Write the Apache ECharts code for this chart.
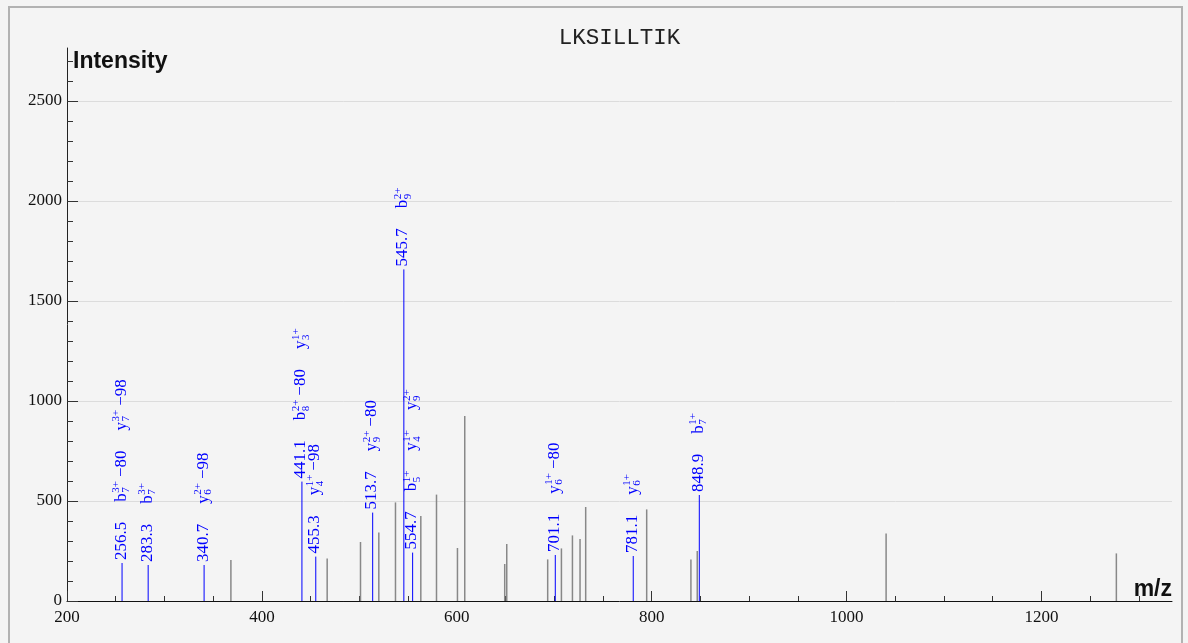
<!DOCTYPE html>
<html><head><meta charset="utf-8">
<script src="https://cdn.jsdelivr.net/npm/echarts@6/dist/echarts.min.js"></script>
<style>
html,body{margin:0;padding:0;background:#f4f4f4;width:1188px;height:643px;overflow:hidden;}
#frame{position:absolute;left:8px;top:6px;width:1175px;height:700px;border:2px solid #b2b2b2;box-sizing:border-box;}
#chart{position:absolute;left:0;top:0;width:1188px;height:643px;}
</style></head><body>
<div id="frame"></div>
<div id="chart"></div>
<script>
const peptide = 'LKSILLTIK';
const xTickValues = [200, 400, 600, 800, 1000, 1200];
const yTickValues = [0, 500, 1000, 1500, 2000, 2500];

// unannotated peaks (m/z, intensity)
const grayMz  = [368.2, 467.0, 501.2, 520.0, 537.1, 563.1, 579.2, 600.7, 608.2, 649.2, 651.3, 693.3, 707.4, 718.7, 726.5, 732.3, 794.9, 840.3, 846.8, 1040.6, 1276.9];
const grayInt = [205, 212, 295, 343, 493, 425, 532, 265, 925, 185, 285, 208, 263, 328, 310, 470, 458, 208, 250, 338, 238];

// annotated peaks
const blueMz  = [256.5, 283.3, 340.7, 441.1, 455.3, 513.7, 545.7, 554.7, 701.1, 781.1, 848.9];
const blueInt = [190, 180, 180, 597, 222, 442, 1658, 242, 230, 225, 530];
// ion labels: base|subscript|superscript|suffix
const blueIons = [
  ['b|7|3+|−80', 'y|7|3+|−98'],
  ['b|7|3+|'],
  ['y|6|2+|−98'],
  ['b|8|2+|−80', 'y|3|1+|'],
  ['y|4|1+|−98'],
  ['y|9|2+|−80'],
  ['b|9|2+|'],
  ['b|5|1+|', 'y|4|1+|', 'y|9|2+|'],
  ['y|6|1+|−80'],
  ['y|6|1+|'],
  ['b|7|1+|']
];

const BLUE = '#0000ff';
const GRAY = '#888888';
const F_MAIN = '17px "Liberation Serif"';
const F_SMALL = '11px "Liberation Serif"';
const GAP = 20;

const mctx = document.createElement('canvas').getContext('2d');
function measure(t, font) { mctx.font = font; return mctx.measureText(t).width; }
function txt(x, y, text, font) {
  return {type: 'text', x: x, y: y, style: {text: text, font: font, fill: BLUE,
    align: 'left', verticalAlign: 'middle', textAlign: 'left', textVerticalAlign: 'middle'}};
}

function renderGray(params, api) {
  const p0 = api.coord([api.value(0), 0]);
  const p1 = api.coord([api.value(0), api.value(1)]);
  return {type: 'line', shape: {x1: p0[0], y1: p0[1], x2: p1[0], y2: p1[1]},
    style: {stroke: GRAY, lineWidth: 1.5}};
}

function renderBlue(params, api) {
  const i = params.dataIndex;
  const p0 = api.coord([api.value(0), 0]);
  const p1 = api.coord([api.value(0), api.value(1)]);
  const texts = [];
  const num = blueMz[i].toFixed(1);
  texts.push(txt(0, 0, num, F_MAIN));
  let x = measure(num, F_MAIN) + GAP;
  blueIons[i].forEach(function (ion) {
    const parts = ion.split('|');
    const base = parts[0], sub = parts[1], sup = parts[2], suffix = parts[3];
    texts.push(txt(x, 0, base, F_MAIN));
    const bw = measure(base, F_MAIN) + 0.5;
    texts.push(txt(x + bw, -5, sup, F_SMALL));
    texts.push(txt(x + bw, 5, sub, F_SMALL));
    let w = bw + Math.max(measure(sup, F_SMALL), measure(sub, F_SMALL));
    if (suffix) {
      texts.push(txt(x + w + 4, 0, suffix, F_MAIN));
      w += 4 + measure(suffix, F_MAIN);
    }
    x += w + GAP;
  });
  return {type: 'group', children: [
    {type: 'line', shape: {x1: p0[0], y1: p0[1], x2: p1[0], y2: p1[1]}, style: {stroke: BLUE, lineWidth: 1}},
    {type: 'group', x: p1[0] - 1, y: p1[1] - 3, rotation: Math.PI / 2, children: texts}
  ]};
}

function plain(v) { return String(v); }

const chart = echarts.init(document.getElementById('chart'), null, {renderer: 'canvas'});
chart.setOption({
  backgroundColor: 'transparent',
  animation: false,
  title: {
    text: peptide, left: 614.5, top: 22, textAlign: 'center',
    textStyle: {fontFamily: '"Liberation Mono"', fontSize: 22.5, fontWeight: 'normal', color: '#222'}
  },
  grid: {left: 67, right: 16, top: 48, bottom: 42, containLabel: false},
  xAxis: {
    type: 'value', min: 200, max: 1334, interval: 200,
    axisLine: {show: true, onZero: false, lineStyle: {color: '#111', width: 1}},
    axisTick: {show: true, inside: true, length: 10, lineStyle: {color: '#333'}, customValues: xTickValues},
    minorTick: {show: true, splitNumber: 4, length: 5, lineStyle: {color: '#333'}},
    axisLabel: {customValues: xTickValues, formatter: plain, fontFamily: '"Liberation Serif"', fontSize: 17, color: '#111', margin: 8},
    splitLine: {show: false},
    name: 'm/z', nameLocation: 'end', nameGap: 0,
    nameTextStyle: {fontFamily: '"Liberation Sans"', fontWeight: 'bold', fontSize: 23, color: '#111', align: 'right', verticalAlign: 'bottom'}
  },
  yAxis: {
    type: 'value', min: 0, max: 2765, interval: 500,
    axisLine: {show: true, onZero: false, lineStyle: {color: '#222', width: 1}},
    axisTick: {show: true, inside: true, length: 11, lineStyle: {color: '#333'}, customValues: yTickValues},
    minorTick: {show: true, splitNumber: 5, length: 6, lineStyle: {color: '#333'}},
    axisLabel: {customValues: yTickValues, formatter: plain, fontFamily: '"Liberation Serif"', fontSize: 17, color: '#111', margin: 5},
    splitLine: {show: true, lineStyle: {color: '#dcdcdc', width: 1}},
    name: 'Intensity', nameLocation: 'end', nameGap: -14,
    nameTextStyle: {fontFamily: '"Liberation Sans"', fontWeight: 'bold', fontSize: 23, color: '#111', align: 'left', verticalAlign: 'middle', padding: [0, 0, 0, 6]}
  },
  series: [
    {type: 'custom', name: 'unannotated', renderItem: renderGray, z: 2,
      data: grayMz.map(function (m, i) { return [m, grayInt[i]]; })},
    {type: 'custom', name: 'annotated', renderItem: renderBlue, z: 3,
      data: blueMz.map(function (m, i) { return [m, blueInt[i]]; })}
  ]
});
</script>
</body></html>
